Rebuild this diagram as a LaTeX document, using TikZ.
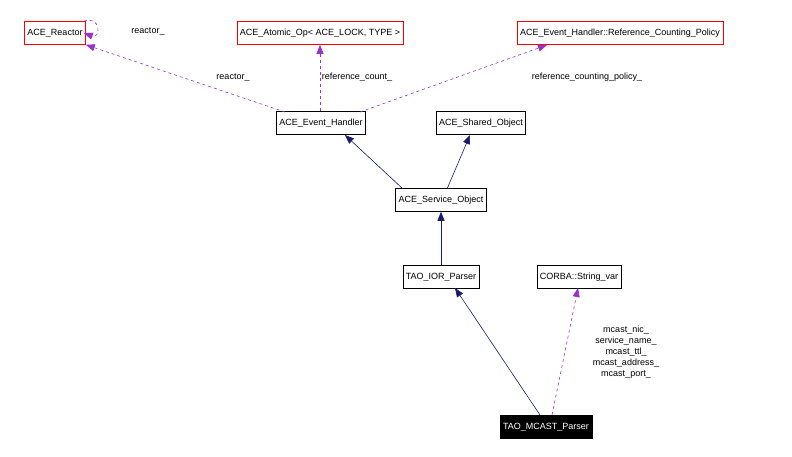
\documentclass[tikz,border=0pt]{standalone}
\usepackage{fontspec}
\setmainfont{Liberation Sans}
\usetikzlibrary{arrows.meta}
\begin{document}
\begin{tikzpicture}[x=1pt,y=-1pt,
  box/.style={draw=#1,fill=white,minimum height=23,inner xsep=3pt,font=\fontsize{9}{10}\selectfont,line width=0.6pt},
  box/.default=black,
  inh/.style={draw={rgb,255:red,25;green,25;blue,112},line width=0.6pt,-{Triangle[length=9pt,width=7pt]}},
  use/.style={draw={rgb,255:red,153;green,50;blue,204},dashed,line width=0.6pt,-{Triangle[length=9pt,width=7pt]}},
  lab/.style={font=\fontsize{9}{11}\selectfont,align=center}]
\useasboundingbox (0,0) rectangle (792,456);
\node[box=red] (react) at (55,33) {ACE\_Reactor};
\node[box=red] (atom) at (320,33) {ACE\_Atomic\_Op< ACE\_LOCK, TYPE >};
\node[box=red] (pol) at (620,33) {ACE\_Event\_Handler::Reference\_Counting\_Policy};
\node[box] (eh) at (321,123) {ACE\_Event\_Handler};
\node[box] (so) at (481,123) {ACE\_Shared\_Object};
\node[box] (svc) at (441,200) {ACE\_Service\_Object};
\node[box] (ior) at (441,277) {TAO\_IOR\_Parser};
\node[box] (sv) at (579,277) {CORBA::String\_var};
\node[box,fill=black,text=white] (mc) at (546,427) {TAO\_MCAST\_Parser};
\coordinate (eht) at (285,112);
\draw[use] (eht) -- (react.south east) ;
\draw[use] (react.north east) ++(-2,0) to[out=20,in=-20,looseness=4] ([xshift=-2]react.south east |- react.east);
\node[lab] at (148,31) {reactor\_};
\node[lab] at (233,77) {reactor\_};
\draw[use] (eh.north -| atom.south) -- (atom.south);
\node[lab] at (357,77) {reference\_count\_};
\draw[use] (360,112) -- (547,45);
\node[lab] at (587,77) {reference\_counting\_policy\_};
\draw[inh] (403,189) -- (345,135);
\draw[inh] (447,189) -- (470,135);
\draw[inh] (ior.north) -- (svc.south);
\draw[inh] (540,415) -- (455,288);
\draw[use] (552,415) -- (578,288);
\node[lab] at (626,352) {mcast\_nic\_\\service\_name\_\\mcast\_ttl\_\\mcast\_address\_\\mcast\_port\_};
\end{tikzpicture}
\end{document}
